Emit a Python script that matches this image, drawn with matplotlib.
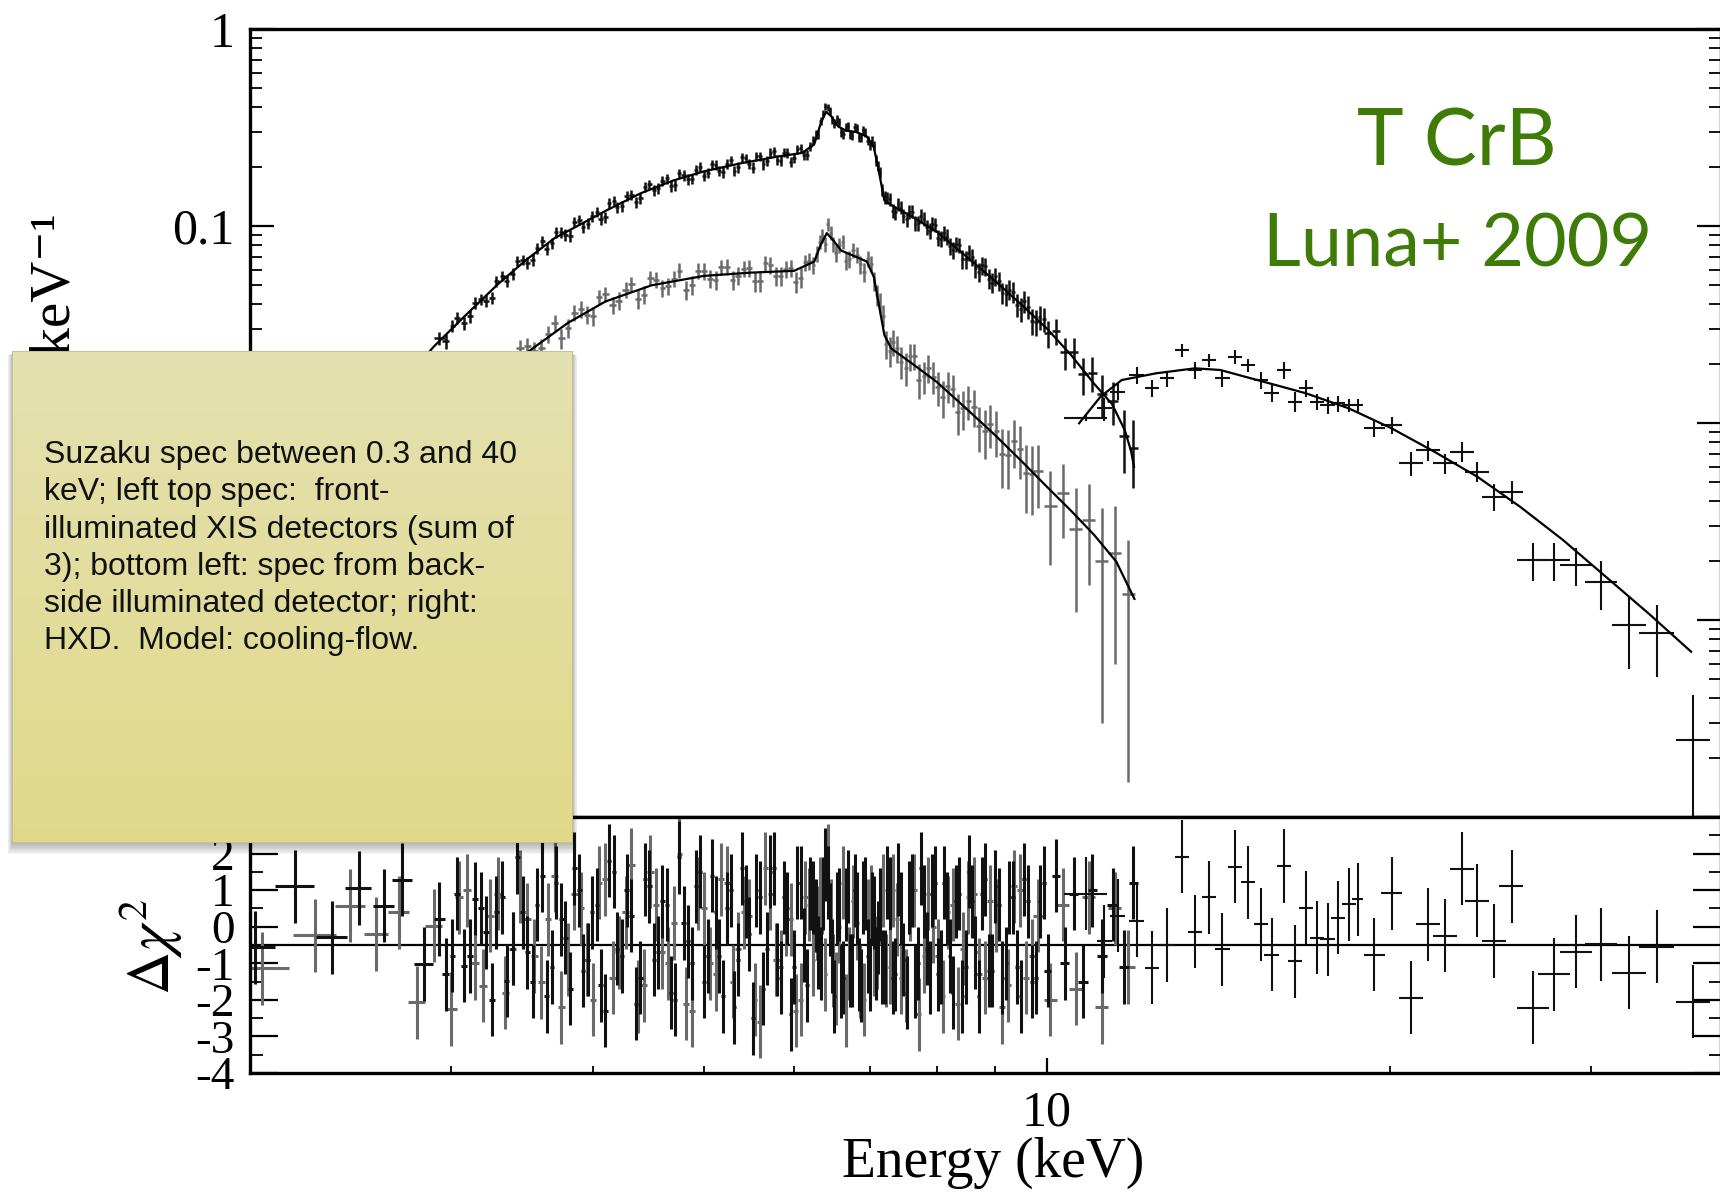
import numpy as np
import matplotlib
matplotlib.use('Agg')
import matplotlib.pyplot as plt
from matplotlib.ticker import LogLocator, NullFormatter, FuncFormatter, MultipleLocator
from matplotlib.patches import Rectangle
from matplotlib.colors import LinearSegmentedColormap

plt.rcParams['font.family'] = ['Liberation Serif', 'DejaVu Serif']
plt.rcParams['mathtext.fontset'] = 'stix'
plt.rcParams['axes.unicode_minus'] = False

# ---- XIS front-illuminated (sum of 3) : counts s^-1 keV^-1 ----
fi_energy = [2.02, 2.19, 2.36, 2.49, 2.62, 2.72, 2.84, 2.93, 3.01, 3.08,
             3.15, 3.22, 3.29, 3.36, 3.43, 3.50, 3.57, 3.64, 3.71, 3.78,
             3.85, 3.92, 3.99, 4.06, 4.13, 4.20, 4.28, 4.36, 4.44, 4.52,
             4.60, 4.68, 4.76, 4.84, 4.92, 5.00, 5.08, 5.16, 5.24, 5.32,
             5.40, 5.48, 5.56, 5.64, 5.72, 5.80, 5.88, 5.96, 6.04, 6.12,
             6.20, 6.27, 6.33, 6.39, 6.45, 6.51, 6.57, 6.63, 6.69, 6.75,
             6.81, 6.87, 6.93, 6.99, 7.05, 7.11, 7.17, 7.24, 7.32, 7.40,
             7.48, 7.57, 7.66, 7.75, 7.84, 7.93, 8.02, 8.12, 8.22, 8.32,
             8.43, 8.54, 8.65, 8.77, 8.89, 9.01, 9.14, 9.27, 9.41, 9.55,
             9.70, 9.85, 10.01, 10.18, 10.36, 10.55, 10.75, 10.96, 11.18, 11.42,
             11.68, 11.90]
fi_flux = [0.0030, 0.0039, 0.0069, 0.0088, 0.0133, 0.0163, 0.0197, 0.0270, 0.0312, 0.0321,
           0.0407, 0.0417, 0.0525, 0.0525, 0.0664, 0.0652, 0.0770, 0.0767, 0.0929, 0.0902,
           0.1052, 0.0983, 0.1123, 0.1090, 0.1315, 0.1242, 0.1418, 0.1321, 0.1579, 0.1517,
           0.1695, 0.1589, 0.1851, 0.1727, 0.1932, 0.1796, 0.2056, 0.1901, 0.2070, 0.1907,
           0.2232, 0.2068, 0.2258, 0.2059, 0.2353, 0.2160, 0.2361, 0.2116, 0.2447, 0.2289,
           0.2548, 0.2915, 0.3399, 0.4055, 0.3827, 0.3312, 0.3360, 0.2914, 0.3222, 0.2869,
           0.3150, 0.2832, 0.2985, 0.2584, 0.2575, 0.2020, 0.1533, 0.1397, 0.1192, 0.1288,
           0.1123, 0.1180, 0.1029, 0.1129, 0.0985, 0.1027, 0.0871, 0.0924, 0.0791, 0.0809,
           0.0679, 0.0732, 0.0613, 0.0632, 0.0540, 0.0555, 0.0458, 0.0476, 0.0398, 0.0414,
           0.0331, 0.0344, 0.0285, 0.0293, 0.0228, 0.0230, 0.0177, 0.0180, 0.0141, 0.0130,
           0.0086, 0.0075]
fi_err = [0.0006, 0.0007, 0.0009, 0.0011, 0.0013, 0.0015, 0.0018, 0.0021, 0.0023, 0.0025,
          0.0028, 0.0030, 0.0034, 0.0037, 0.0040, 0.0044, 0.0048, 0.0052, 0.0056, 0.0059,
          0.0063, 0.0066, 0.0070, 0.0073, 0.0077, 0.0080, 0.0084, 0.0088, 0.0092, 0.0096,
          0.0099, 0.0102, 0.0105, 0.0107, 0.0110, 0.0112, 0.0115, 0.0117, 0.0119, 0.0120,
          0.0122, 0.0123, 0.0125, 0.0126, 0.0128, 0.0129, 0.0130, 0.0131, 0.0132, 0.0133,
          0.0136, 0.0145, 0.0160, 0.0172, 0.0170, 0.0165, 0.0158, 0.0155, 0.0153, 0.0152,
          0.0151, 0.0150, 0.0148, 0.0144, 0.0138, 0.0122, 0.0108, 0.0099, 0.0096, 0.0095,
          0.0093, 0.0091, 0.0090, 0.0088, 0.0086, 0.0085, 0.0082, 0.0080, 0.0077, 0.0075,
          0.0072, 0.0070, 0.0067, 0.0065, 0.0062, 0.0060, 0.0058, 0.0056, 0.0054, 0.0052,
          0.0050, 0.0048, 0.0046, 0.0044, 0.0042, 0.0040, 0.0038, 0.0036, 0.0034, 0.0032,
          0.0030, 0.0028]
fi_resid = [-0.56, 1.11, -0.29, 1.06, 0.58, 1.28, -1.02, 0.21, -0.79, -1.07,
            0.76, -0.15, 0.39, -1.48, 1.90, -0.70, 0.60, -1.90, 1.20, -0.30,
            1.60, -1.20, 0.40, -1.60, 1.80, -0.60, 1.00, -2.10, 1.30, -0.90,
            0.70, -1.80, 1.90, -0.40, 1.10, -1.50, 1.40, -0.80, 0.50, -2.20,
            1.60, -0.20, 1.00, -1.70, 1.50, -0.90, 0.80, -2.40, 1.20, -0.50,
            0.90, 0.30, -1.00, 1.70, 0.20, -1.90, 0.60, -1.40, 1.10, -1.20,
            0.50, -1.60, 0.90, -1.30, 0.40, -0.30, -1.10, 1.20, -1.40, 1.30,
            -0.90, 0.80, -1.50, 1.60, -0.60, 1.00, -1.30, 1.20, -0.80, 0.70,
            -1.90, 1.50, -0.70, 0.90, -1.20, 1.10, -1.40, 0.80, -1.10, 1.30,
            -1.50, 0.70, -1.20, 1.40, -1.00, 0.90, -1.50, 1.00, -0.80, 0.60,
            -1.10, 1.20]

# interleaved FI channels across the bright part of the band
fi2_energy = [2.97, 3.04, 3.12, 3.19, 3.26, 3.33, 3.40, 3.47, 3.54, 3.61,
              3.68, 3.75, 3.82, 3.89, 3.96, 4.03, 4.10, 4.17, 4.24, 4.32,
              4.40, 4.48, 4.56, 4.64, 4.72, 4.80, 4.88, 4.96, 5.04, 5.12,
              5.20, 5.28, 5.36, 5.44, 5.52, 5.60, 5.68, 5.76, 5.84, 5.92,
              6.00, 6.08, 6.16, 6.24, 6.30, 6.36, 6.42, 6.48, 6.54, 6.60,
              6.66, 6.72, 6.78, 6.84, 6.90, 6.96, 7.02, 7.08, 7.14, 7.21,
              7.28, 7.36, 7.44, 7.53, 7.62, 7.71, 7.80, 7.89, 7.98, 8.07,
              8.17, 8.27, 8.38, 8.49, 8.60, 8.71, 8.83, 8.95, 9.08, 9.21,
              9.34, 9.48, 9.63, 9.78, 9.93]
fi2_flux = [0.0260, 0.0342, 0.0349, 0.0425, 0.0432, 0.0559, 0.0572, 0.0673, 0.0675, 0.0842,
            0.0816, 0.0927, 0.0893, 0.1071, 0.1028, 0.1181, 0.1107, 0.1338, 0.1262, 0.1440,
            0.1382, 0.1627, 0.1557, 0.1743, 0.1607, 0.1808, 0.1738, 0.1996, 0.1858, 0.2038,
            0.1875, 0.2152, 0.1985, 0.2203, 0.1981, 0.2257, 0.2139, 0.2391, 0.2147, 0.2354,
            0.2222, 0.2486, 0.2285, 0.2730, 0.2910, 0.3721, 0.3996, 0.3458, 0.3491, 0.2993,
            0.3193, 0.2909, 0.3191, 0.2826, 0.3056, 0.2711, 0.2714, 0.2150, 0.1869, 0.1397,
            0.1367, 0.1173, 0.1238, 0.1081, 0.1182, 0.1032, 0.1087, 0.0945, 0.1017, 0.0864,
            0.0882, 0.0753, 0.0799, 0.0679, 0.0698, 0.0586, 0.0623, 0.0516, 0.0525, 0.0451,
            0.0462, 0.0379, 0.0390, 0.0325, 0.0336]
fi2_err = [0.0022, 0.0024, 0.0027, 0.0029, 0.0032, 0.0035, 0.0039, 0.0042, 0.0046, 0.0050,
           0.0054, 0.0058, 0.0061, 0.0065, 0.0068, 0.0072, 0.0075, 0.0079, 0.0082, 0.0086,
           0.0090, 0.0094, 0.0098, 0.0100, 0.0104, 0.0106, 0.0108, 0.0111, 0.0114, 0.0116,
           0.0118, 0.0119, 0.0121, 0.0122, 0.0124, 0.0125, 0.0127, 0.0128, 0.0129, 0.0130,
           0.0131, 0.0132, 0.0134, 0.0140, 0.0152, 0.0166, 0.0171, 0.0167, 0.0162, 0.0157,
           0.0154, 0.0153, 0.0152, 0.0150, 0.0149, 0.0146, 0.0141, 0.0130, 0.0115, 0.0103,
           0.0097, 0.0096, 0.0094, 0.0092, 0.0090, 0.0089, 0.0087, 0.0086, 0.0084, 0.0081,
           0.0078, 0.0076, 0.0073, 0.0071, 0.0068, 0.0066, 0.0063, 0.0061, 0.0059, 0.0057,
           0.0055, 0.0053, 0.0051, 0.0049, 0.0047]
fi2_resid = [-1.3, 0.9, -0.8, 0.5, -2.0, 0.8, -0.6, 0.4, -1.5, 1.4,
             -1.1, 0.2, -1.7, 1.0, -0.9, 0.6, -2.3, 1.5, -0.8, 0.3,
             -1.4, 1.1, -0.7, 0.6, -2.0, 0.1, -1.0, 1.5, -0.8, 0.4,
             -1.9, 1.0, -0.9, 0.7, -2.5, 0.8, -0.6, 1.6, -1.4, 0.5,
             -1.1, 1.2, -1.6, 0.8, -0.7, 0.9, 1.2, -0.8, 0.5, -1.5,
             0.6, -1.2, 1.0, -1.3, 0.8, -0.8, 0.5, -1.0, 0.6, -1.1,
             0.9, -1.3, 0.5, -1.8, 1.0, -1.0, 0.7, -1.4, 1.2, -1.1,
             0.5, -1.8, 0.9, -1.1, 0.7, -1.9, 1.3, -1.2, 0.6, -1.0,
             0.8, -1.9, 0.7, -1.4, 1.2]

fi_model_energy = [2.0, 2.3, 2.6, 2.9, 3.1, 3.3, 3.5, 3.7, 3.9, 4.1,
                   4.4, 4.7, 5.0, 5.4, 5.8, 6.1, 6.25, 6.33, 6.40, 6.47,
                   6.56, 6.66, 6.80, 6.95, 7.05, 7.12, 7.20, 7.35, 7.6, 8.0,
                   8.5, 9.0, 9.5, 10.0, 10.5, 11.0, 11.4, 11.7, 11.85, 11.92]
fi_model_flux = [0.0025, 0.0057, 0.0118, 0.0245, 0.0358, 0.0507, 0.0679, 0.0868, 0.1021, 0.1193,
                 0.1464, 0.1701, 0.1893, 0.2086, 0.225, 0.235, 0.26, 0.33, 0.38, 0.36,
                 0.32, 0.305, 0.30, 0.285, 0.25, 0.19, 0.135, 0.1247, 0.1122, 0.0937,
                 0.0699, 0.0527, 0.0398, 0.0301, 0.0221, 0.0158, 0.0125, 0.0092, 0.0072, 0.0060]

# ---- XIS back-illuminated ----
bi_energy = [2.05, 2.28, 2.45, 2.58, 2.70, 2.80, 2.90, 3.00, 3.10, 3.20,
             3.30, 3.40, 3.50, 3.60, 3.70, 3.80, 3.90, 4.00, 4.10, 4.21,
             4.32, 4.43, 4.54, 4.65, 4.76, 4.88, 5.00, 5.12, 5.24, 5.36,
             5.48, 5.60, 5.72, 5.84, 5.96, 6.08, 6.19, 6.28, 6.35, 6.42,
             6.49, 6.57, 6.66, 6.76, 6.86, 6.96, 7.05, 7.13, 7.22, 7.33,
             7.45, 7.58, 7.72, 7.87, 8.02, 8.18, 8.35, 8.53, 8.72, 8.92,
             9.13, 9.35, 9.58, 9.82, 10.07, 10.33, 10.60, 10.88, 11.17, 11.47,
             11.78]
bi_flux = [0.0021, 0.0024, 0.0044, 0.0047, 0.0069, 0.0071, 0.0103, 0.0102, 0.0141, 0.0142,
           0.0195, 0.0192, 0.0246, 0.0239, 0.0322, 0.0303, 0.0378, 0.0349, 0.0451, 0.0418,
           0.0509, 0.0449, 0.0535, 0.0494, 0.0594, 0.0501, 0.0591, 0.0531, 0.0622, 0.0559,
           0.0609, 0.0525, 0.0632, 0.0558, 0.0613, 0.0547, 0.0663, 0.0721, 0.0896, 0.1019,
           0.0808, 0.0801, 0.0664, 0.0754, 0.0639, 0.0683, 0.0528, 0.0410, 0.0252, 0.0259,
           0.0205, 0.0218, 0.0166, 0.0190, 0.0152, 0.0154, 0.0114, 0.0129, 0.0096, 0.0099,
           0.0070, 0.0081, 0.0056, 0.0057, 0.0038, 0.0044, 0.0029, 0.0032, 0.0020, 0.0022,
           0.00135]
bi_err = [0.0006, 0.0007, 0.0008, 0.0009, 0.0010, 0.0011, 0.0013, 0.0014, 0.0016, 0.0018,
          0.0020, 0.0022, 0.0025, 0.0028, 0.0030, 0.0033, 0.0036, 0.0038, 0.0040, 0.0042,
          0.0044, 0.0046, 0.0048, 0.0050, 0.0052, 0.0054, 0.0056, 0.0057, 0.0058, 0.0059,
          0.0060, 0.0060, 0.0061, 0.0061, 0.0062, 0.0062, 0.0064, 0.0067, 0.0072, 0.0076,
          0.0073, 0.0070, 0.0068, 0.0067, 0.0066, 0.0064, 0.0058, 0.0049, 0.0041, 0.0039,
          0.0037, 0.0035, 0.0033, 0.0031, 0.0030, 0.0028, 0.0027, 0.0026, 0.0025, 0.0024,
          0.0023, 0.0022, 0.0021, 0.0020, 0.0019, 0.0018, 0.0018, 0.0017, 0.0017, 0.0016,
          0.0012]
bi_resid = [-1.14, -0.24, 0.58, -0.20, 0.39, -2.07, 0.03, -2.25, 1.00, -1.61,
            0.90, -0.60, 0.20, -1.52, 1.40, -0.90, 0.50, -2.00, 1.30, -0.70,
            1.70, -1.60, 0.60, -1.00, 2.00, -2.30, 0.50, -1.30, 1.20, -0.60,
            0.30, -2.60, 0.90, -1.10, 0.20, -2.00, 0.60, 0.10, 0.80, 1.80,
            -1.20, 0.00, -2.30, 0.70, -1.50, 0.30, -0.90, 0.50, -1.20, 1.00,
            -1.40, 0.60, -2.40, 0.90, -0.80, 0.40, -2.10, 0.80, -1.30, 0.70,
            -2.20, 1.10, -1.40, 0.30, -2.00, 0.60, -1.70, 0.80, -2.20, 0.50,
            -1.10]

bi2_energy = [3.05, 3.15, 3.25, 3.35, 3.45, 3.55, 3.65, 3.75, 3.85, 3.95,
              4.05, 4.16, 4.27, 4.38, 4.49, 4.60, 4.71, 4.82, 4.94, 5.06,
              5.18, 5.30, 5.42, 5.54, 5.66, 5.78, 5.90, 6.02, 6.14, 6.24,
              6.32, 6.39, 6.46, 6.53, 6.62, 6.71, 6.81, 6.91, 7.01, 7.09,
              7.18, 7.28, 7.39, 7.52, 7.65, 7.80, 7.95, 8.10, 8.27, 8.44,
              8.63, 8.82, 9.03, 9.24, 9.47, 9.70]
bi2_flux = [0.0129, 0.0131, 0.0173, 0.0171, 0.0239, 0.0232, 0.0283, 0.0269, 0.0362, 0.0354,
            0.0435, 0.0397, 0.0475, 0.0426, 0.0546, 0.0483, 0.0539, 0.0473, 0.0591, 0.0540,
            0.0619, 0.0534, 0.0607, 0.0524, 0.0648, 0.0557, 0.0606, 0.0521, 0.0653, 0.0634,
            0.0834, 0.0809, 0.0924, 0.0729, 0.0833, 0.0682, 0.0714, 0.0585, 0.0642, 0.0446,
            0.0351, 0.0233, 0.0239, 0.0191, 0.0219, 0.0173, 0.0172, 0.0135, 0.0148, 0.0119,
            0.0121, 0.0091, 0.0091, 0.0069, 0.0074, 0.0055]
bi2_err = [0.0015, 0.0017, 0.0019, 0.0021, 0.0024, 0.0026, 0.0029, 0.0031, 0.0034, 0.0037,
           0.0039, 0.0041, 0.0043, 0.0045, 0.0047, 0.0049, 0.0051, 0.0053, 0.0055, 0.0056,
           0.0057, 0.0058, 0.0059, 0.0060, 0.0060, 0.0061, 0.0061, 0.0062, 0.0063, 0.0065,
           0.0070, 0.0074, 0.0075, 0.0071, 0.0069, 0.0067, 0.0066, 0.0065, 0.0061, 0.0053,
           0.0045, 0.0040, 0.0038, 0.0036, 0.0034, 0.0032, 0.0031, 0.0029, 0.0028, 0.0027,
           0.0026, 0.0025, 0.0024, 0.0023, 0.0022, 0.0021]
bi2_resid = [0.8, -1.0, 0.3, -1.8, 1.1, -0.8, 0.2, -2.2, 0.9, -0.9,
             1.2, -1.4, 0.4, -1.9, 1.5, -0.7, 0.1, -2.1, 0.9, -1.0,
             1.3, -1.5, 0.4, -2.0, 1.6, -0.9, 0.2, -2.3, 0.8, -0.9,
             0.9, -1.3, 0.3, -1.7, 1.2, -1.0, 0.1, -2.0, 0.7, -0.7,
             1.0, -1.1, 0.2, -1.6, 1.0, -0.8, 0.0, -1.9, 0.6, -0.6,
             0.9, -1.4, 0.3, -1.6, 1.0, -0.8]

bi_model_energy = [2.0, 2.4, 2.8, 3.2, 3.5, 3.8, 4.1, 4.5, 5.0, 5.5,
                   6.0, 6.25, 6.33, 6.41, 6.49, 6.6, 6.75, 6.95, 7.05, 7.12,
                   7.2, 7.3, 7.6, 8.0, 8.5, 9.0, 9.5, 10.0, 10.5, 11.0,
                   11.5, 11.93]
bi_model_flux = [0.0016, 0.0036, 0.0079, 0.0153, 0.0228, 0.0322, 0.0414, 0.0500, 0.0558, 0.0580,
                 0.0592, 0.066, 0.080, 0.092, 0.085, 0.075, 0.071, 0.066, 0.055, 0.040,
                 0.028, 0.0239, 0.0202, 0.0162, 0.0118, 0.0087, 0.0064, 0.00474, 0.00358, 0.0027,
                 0.00198, 0.00128]

# ---- HXD/PIN ----
hxd_energy = [10.81, 11.23, 11.53, 11.99, 12.36, 12.74, 13.13, 13.48, 13.88, 14.25,
              14.62, 15.01, 15.40, 15.74, 16.13, 16.51, 16.87, 17.24, 17.62, 18.00,
              18.39, 18.72, 19.37, 20.05, 20.85, 21.59, 22.35, 23.13, 23.84, 24.68,
              25.55, 26.67, 27.86, 29.09, 30.63, 32.40, 34.27, 36.89]
hxd_width = [0.47, 0.17, 0.17, 0.18, 0.18, 0.19, 0.19, 0.20, 0.20, 0.21,
             0.21, 0.22, 0.22, 0.23, 0.23, 0.24, 0.24, 0.25, 0.25, 0.26,
             0.26, 0.20, 0.42, 0.44, 0.50, 0.52, 0.54, 0.56, 0.58, 0.60,
             0.62, 0.86, 0.90, 0.94, 0.98, 1.12, 1.20, 1.28]
hxd_flux = [0.01064, 0.01187, 0.01442, 0.01753, 0.0150, 0.01686, 0.02348, 0.01858, 0.02088, 0.01686,
            0.0217, 0.0197, 0.01652, 0.01415, 0.01858, 0.01283, 0.0150, 0.01283, 0.01234, 0.01259,
            0.01234, 0.01234, 0.0094, 0.00977, 0.00625, 0.0073, 0.00625, 0.00715, 0.00566, 0.00423,
            0.00448, 0.00202, 0.00202, 0.0019, 0.00156, 0.000944, 0.000855, 0.000246]
hxd_err = [0.0004, 0.0016, 0.0014, 0.0017, 0.00145, 0.0016, 0.0018, 0.0018, 0.0016, 0.0016,
           0.0017, 0.0015, 0.0016, 0.0014, 0.0018, 0.0015, 0.00145, 0.00125, 0.0012, 0.0012,
           0.00096, 0.00096, 0.0009, 0.00095, 0.00086, 0.00085, 0.00073, 0.00084, 0.00066, 0.00066,
           0.00061, 0.00044, 0.00044, 0.00041, 0.00043, 0.00038, 0.00034, 0.00017]
hxd_resid = [0.90, -0.40, 0.30, 0.16, -1.12, -0.50, 1.91, -0.14, 0.80, -0.62,
             1.64, 1.21, 0.07, -0.76, 1.66, -0.94, 0.52, -0.30, -0.34, 0.25,
             0.61, 0.75, -0.77, 0.91, -1.94, 0.07, -0.25, 1.59, 0.71, -0.39,
             1.10, -2.22, -1.30, -0.68, -0.48, -1.26, -0.55, -2.05]
hxd_model_energy = [10.67, 11.14, 11.63, 12.46, 13.48, 14.19, 15.47, 16.87, 18.39, 20.05,
                    21.86, 23.84, 25.99, 28.34, 30.90, 33.69, 36.72]
hxd_model_flux = [0.00997, 0.0136, 0.01653, 0.01787, 0.01895, 0.01858, 0.01622, 0.01415, 0.01187, 0.0094,
                  0.00715, 0.00534, 0.00376, 0.00255, 0.00166, 0.00108, 0.00069]

resid_level = -0.5   # reference line in the residual panel
resid_sigma = 1.0    # delchi error bars are one sigma


def merge(*cols_a, cols_b):
    """join two channel sets and sort them by energy"""
    out = [np.concatenate([np.asarray(a, float), np.asarray(b, float)])
           for a, b in zip(cols_a, cols_b)]
    order = np.argsort(out[0])
    return [c[order] for c in out]


fi_e, fi_f, fi_s, fi_r = merge(fi_energy, fi_flux, fi_err, fi_resid,
                               cols_b=(fi2_energy, fi2_flux, fi2_err, fi2_resid))
bi_e, bi_f, bi_s, bi_r = merge(bi_energy, bi_flux, bi_err, bi_resid,
                               cols_b=(bi2_energy, bi2_flux, bi2_err, bi2_resid))

# half bin widths of the contiguous XIS channels
fi_w = np.gradient(fi_e) / 2
bi_w = np.gradient(bi_e) / 2

W, H = 1720, 1193
fig = plt.figure(figsize=(W / 100, H / 100), dpi=100)

x0 = 250 / W
wid = (1721 - 250) / W
ax = fig.add_axes([x0, 1 - 817 / H, wid, (817 - 29) / H])
axr = fig.add_axes([x0, 1 - 1073 / H, wid, (1073 - 817) / H])

black = '#111111'
grey = '#6a6a6a'
ekw = dict(fmt='none', capsize=0)

# spectra
ax.errorbar(bi_e, bi_f, xerr=bi_w, yerr=bi_s, ecolor=grey, elinewidth=1.8, **ekw)
ax.errorbar(fi_e, fi_f, xerr=fi_w, yerr=fi_s, ecolor=black, elinewidth=1.8, **ekw)
ax.errorbar(hxd_energy, hxd_flux, xerr=hxd_width, yerr=hxd_err, ecolor=black,
            elinewidth=1.5, **ekw)
for e, f in [(fi_model_energy, fi_model_flux), (bi_model_energy, bi_model_flux),
             (hxd_model_energy, hxd_model_flux)]:
    ax.plot(e, f, color='black', lw=1.6, zorder=3)

ax.set_xscale('log')
ax.set_yscale('log')
ax.set_xlim(2, 39)
ax.set_ylim(1e-4, 1)
ax.tick_params(axis='x', which='both', bottom=False, top=False, labelbottom=False)
ax.yaxis.set_major_locator(LogLocator(base=10, numticks=10))
ax.yaxis.set_minor_locator(LogLocator(base=10, subs=np.arange(2, 10), numticks=40))
ax.yaxis.set_major_formatter(FuncFormatter(lambda v, p: '%g' % v))
ax.yaxis.set_minor_formatter(NullFormatter())
ax.tick_params(axis='y', which='both', direction='in', left=True, right=True)
ax.tick_params(axis='y', which='major', length=17, width=1.6, labelsize=36, pad=11)
ax.tick_params(axis='y', which='minor', length=8.5, width=1.3)

# residuals
axr.axhline(resid_level, color='black', lw=1.6, zorder=1)
axr.errorbar(bi_e, bi_r, xerr=bi_w, yerr=resid_sigma, ecolor=grey, elinewidth=2.2, **ekw)
axr.errorbar(fi_e, fi_r, xerr=fi_w, yerr=resid_sigma, ecolor=black, elinewidth=2.2, **ekw)
axr.errorbar(hxd_energy, hxd_resid, xerr=hxd_width, yerr=resid_sigma, ecolor=black,
             elinewidth=1.5, **ekw)
axr.set_xscale('log')
axr.set_xlim(2, 39)
axr.set_ylim(-4, 3)
axr.yaxis.set_major_locator(MultipleLocator(1))
axr.yaxis.set_minor_locator(MultipleLocator(0.5))
axr.yaxis.set_major_formatter(FuncFormatter(lambda v, p: '%d' % round(v)))
axr.tick_params(axis='y', which='both', direction='in', left=True, right=True)
axr.tick_params(axis='y', which='major', length=20, width=1.6, labelsize=34, pad=11)
axr.tick_params(axis='y', which='minor', length=9, width=1.3)
axr.xaxis.set_major_formatter(FuncFormatter(lambda v, p: '%g' % v))
axr.xaxis.set_minor_formatter(NullFormatter())
axr.tick_params(axis='x', which='both', direction='in', bottom=True, top=False)
axr.tick_params(axis='x', which='major', length=11, width=1.6, labelsize=36, pad=12)
axr.tick_params(axis='x', which='minor', length=5, width=1.3)

for a in (ax, axr):
    for s in a.spines.values():
        s.set_linewidth(2.4)

fig.text(993 / W, 1 - 1163 / H, 'Energy (keV)', ha='center', va='center', fontsize=40)
fig.text(56 / W, 1 - 213 / H, 'counts s\u207b\u00b9 keV\u207b\u00b9', rotation=90,
         ha='center', va='top', fontsize=41)
fig.text(150 / W, 1 - 947 / H, r'$\Delta\chi^2$', rotation=90, ha='center',
         va='center', fontsize=43)

# source name
green = '#3f7c07'
fig.text(1457 / W, 1 - 165 / H, 'T CrB', color=green, fontsize=57,
         family='Lato', ha='center', va='baseline')
fig.text(1458 / W, 1 - 267 / H, 'Luna+ 2009', color=green, fontsize=53,
         family='Lato', ha='center', va='baseline')

# sticky note with caption
nx0, nx1, ny0, ny1 = 12, 573, 351, 843
for i in range(8):
    fig.patches.append(Rectangle(((nx0 - i * 0.6) / W, 1 - (ny1 + 2 + i * 1.3) / H),
                                 (nx1 - nx0 + i * 1.2) / W, (ny1 - ny0 + i) / H,
                                 transform=fig.transFigure, color='black',
                                 alpha=0.035, lw=0, zorder=15))
note = fig.add_axes([nx0 / W, 1 - ny1 / H, (nx1 - nx0) / W, (ny1 - ny0) / H], zorder=20)
grad = np.linspace(0, 1, 256).reshape(-1, 1)
cmap = LinearSegmentedColormap.from_list('note', ['#e4e1b0', '#e1d98a'])
note.imshow(grad, aspect='auto', cmap=cmap, extent=[0, 1, 0, 1], origin='upper')
note.add_patch(Rectangle((0, 0), 1, 1, transform=note.transAxes, fill=False,
                         ec='#c2bc8c', lw=1.2))
note.set_axis_off()

note_lines = ['Suzaku spec between 0.3 and 40',
              'keV; left top spec:  front-',
              'illuminated XIS detectors (sum of',
              '3); bottom left: spec from back-',
              'side illuminated detector; right:',
              'HXD.  Model: cooling-flow.']
for k, line in enumerate(note_lines):
    fig.text(44 / W, 1 - (463 + 37.3 * k) / H, line, family='Liberation Sans',
             fontsize=23, color='#111111', ha='left', va='baseline', zorder=30)

fig.savefig('out.png', dpi=100)
